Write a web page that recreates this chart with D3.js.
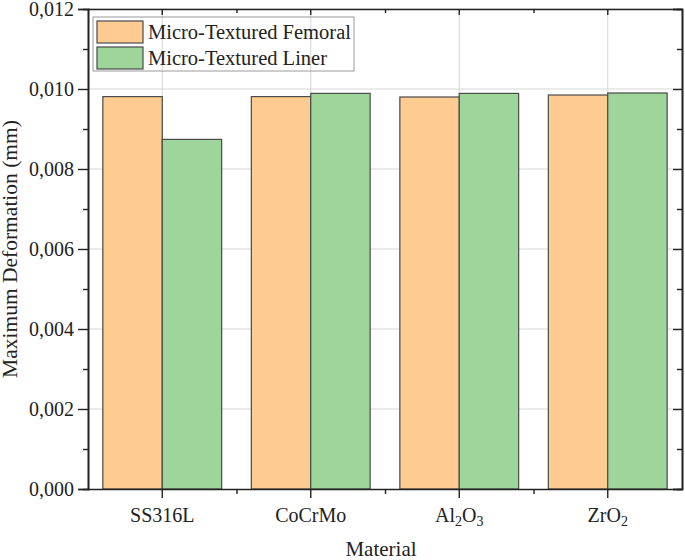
<!DOCTYPE html>
<html>
<head>
<meta charset="utf-8">
<script src="https://cdn.jsdelivr.net/npm/d3@7"></script>
<style>
  body { margin: 0; background: #fff; }
  text { font-family: "Liberation Serif", "Times New Roman", serif; fill: #222; }
</style>
</head>
<body>
<svg id="chart" width="685" height="560"></svg>
<script>
// data
var materials = ['SS316L', 'CoCrMo', 'Al2O3', 'ZrO2'];
var femoral = [0.00981, 0.00981, 0.00980, 0.00985];
var liner = [0.00874, 0.00989, 0.00989, 0.00990];
var seriesNames = ['Micro-Textured Femoral', 'Micro-Textured Liner'];
var seriesColors = ['#fecb90', '#9dd59b'];
var yTicks = [0, 0.002, 0.004, 0.006, 0.008, 0.010, 0.012];

var width = 685,
    height = 560,
    margin = {top: 9, right: 3, bottom: 71, left: 88};

var svg = d3.select('#chart');
var g = svg.append('g').attr('transform', 'translate(' + margin.left + ',' + margin.top + ')');
var w = width - margin.left - margin.right,
    h = height - margin.top - margin.bottom;

var x = d3.scaleBand().domain(materials).range([0, w]).padding(0);
var y = d3.scaleLinear().domain([0, 0.012]).range([h, 0]);
var barW = x.bandwidth() * 0.4;

var fmt = function(d) { return d3.format('.3f')(d).replace('.', ','); };

// grid
g.selectAll('line.hgrid')
    .data(yTicks.slice(1))
    .enter().append('line')
    .attr('class', 'hgrid')
    .attr('x1', 0).attr('x2', w)
    .attr('y1', function(d) { return y(d); })
    .attr('y2', function(d) { return y(d); })
    .attr('stroke', '#d6d6d6').attr('stroke-width', 1);

g.selectAll('line.vgrid')
    .data(materials)
    .enter().append('line')
    .attr('class', 'vgrid')
    .attr('x1', function(d) { return x(d) + x.bandwidth() / 2; })
    .attr('x2', function(d) { return x(d) + x.bandwidth() / 2; })
    .attr('y1', 0).attr('y2', h)
    .attr('stroke', '#d6d6d6').attr('stroke-width', 1);

// bars
var rows = materials.map(function(m, i) { return {m: m, v: [femoral[i], liner[i]]}; });
rows.forEach(function(r) {
    r.v.forEach(function(v, k) {
        var cx = x(r.m) + x.bandwidth() / 2;
        g.append('rect')
            .attr('x', k === 0 ? cx - barW : cx)
            .attr('y', y(v))
            .attr('width', barW)
            .attr('height', h - y(v))
            .attr('fill', seriesColors[k])
            .attr('stroke', '#4a4a4a')
            .attr('stroke-width', 1.2);
    });
});

// axes
var yMinor = d3.range(0.001, 0.012, 0.002);

var leftAx = g.append('g').call(d3.axisLeft(y).tickValues(yTicks).tickFormat(fmt).tickSize(10).tickPadding(4));
leftAx.append('g').call(d3.axisLeft(y).tickValues(yMinor).tickFormat('').tickSize(5));

var rightAx = g.append('g').attr('transform', 'translate(' + w + ',0)');
rightAx.call(d3.axisLeft(y).tickValues(yTicks).tickFormat('').tickSize(9));
rightAx.append('g').call(d3.axisLeft(y).tickValues(yMinor).tickFormat('').tickSize(5));

var boundaries = materials.slice(1).map(function(m) { return x(m); });

var bottomAx = g.append('g').attr('transform', 'translate(0,' + h + ')');
bottomAx.call(d3.axisBottom(x).tickSize(9).tickFormat('').tickSizeOuter(0));
bottomAx.append('g').call(d3.axisBottom(d3.scaleIdentity()).tickValues(boundaries).tickFormat('').tickSize(5).tickSizeOuter(0));

var topAx = g.append('g');
topAx.call(d3.axisBottom(x).tickSize(6).tickFormat('').tickSizeOuter(0));
topAx.append('g').call(d3.axisBottom(d3.scaleIdentity()).tickValues(boundaries).tickFormat('').tickSize(4).tickSizeOuter(0));

g.selectAll('.domain').attr('stroke', '#222').attr('stroke-width', 1.6);
g.selectAll('.tick line').attr('stroke', '#222').attr('stroke-width', 1.4);
leftAx.selectAll('.tick text').style('font-size', '20px').style('font-family', '"Liberation Serif", serif').attr('fill', '#222');

// x category labels with subscripts
var labelParts = {
    'SS316L': [['SS316L', false]],
    'CoCrMo': [['CoCrMo', false]],
    'Al2O3': [['Al', false], ['2', true], ['O', false], ['3', true]],
    'ZrO2': [['ZrO', false], ['2', true]]
};
materials.forEach(function(m) {
    var t = g.append('text')
        .attr('x', x(m) + x.bandwidth() / 2)
        .attr('y', h + 33)
        .attr('text-anchor', 'middle')
        .style('font-size', '20px');
    labelParts[m].forEach(function(p) {
        t.append('tspan')
            .attr('baseline-shift', p[1] ? '-25%' : null)
            .style('font-size', p[1] ? '14px' : null)
            .text(p[0]);
    });
});

// axis titles
svg.append('text')
    .attr('x', margin.left + w / 2 - 4)
    .attr('y', 556)
    .attr('text-anchor', 'middle')
    .style('font-size', '21px')
    .text('Material');

svg.append('text')
    .attr('transform', 'translate(17,' + (margin.top + h / 2) + ') rotate(-90)')
    .attr('text-anchor', 'middle')
    .style('font-size', '21.5px')
    .text('Maximum Deformation (mm)');

// legend
var lg = svg.append('g').attr('transform', 'translate(93,17)');
lg.append('rect')
    .attr('width', 261).attr('height', 54)
    .attr('fill', 'none')
    .attr('stroke', '#9a9a9a').attr('stroke-width', 1);
seriesNames.forEach(function(s, i) {
    lg.append('rect')
        .attr('x', 4).attr('y', 4 + i * 26)
        .attr('width', 46).attr('height', 22)
        .attr('fill', seriesColors[i])
        .attr('stroke', '#4a4a4a').attr('stroke-width', 1.2);
    lg.append('text')
        .attr('x', 55).attr('y', 22 + i * 26)
        .style('font-size', '20.5px')
        .text(s);
});
</script>
</body>
</html>
